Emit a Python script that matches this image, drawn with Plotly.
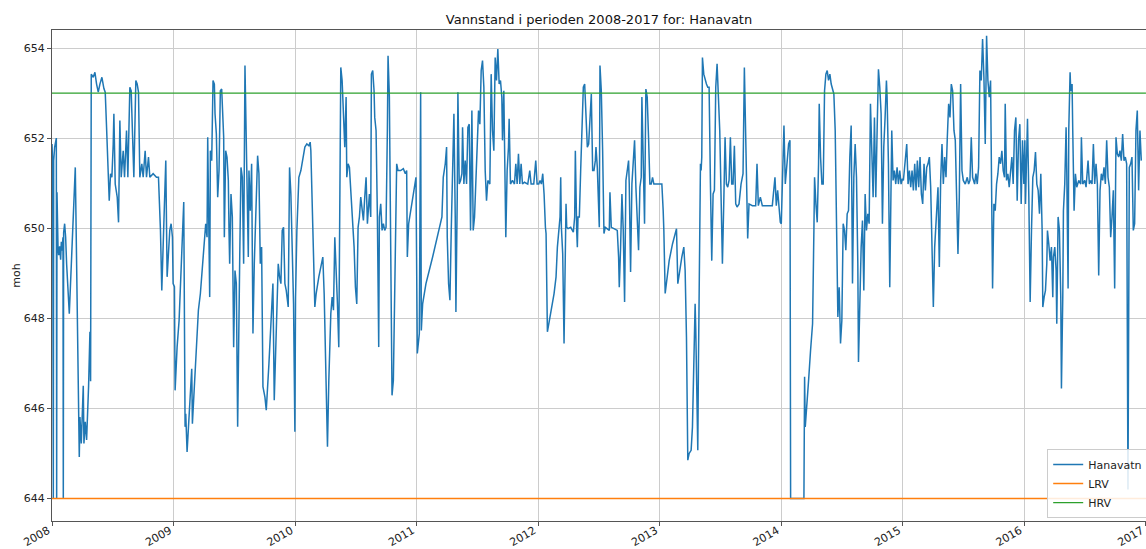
import pandas as pd
import plotly.graph_objects as go

# Water level (moh) per year: day-of-year and level pairs
days_2008 = [0, 2, 4, 5, 8, 11, 13, 14, 15, 18, 20, 23, 26, 28, 30, 33, 34, 35, 38, 41, 44, 50, 52, 70, 82,
             84, 88, 94, 96, 100, 104, 110, 114, 116, 118, 124, 129, 134, 139, 144, 150, 156, 160, 164, 168,
             170, 172, 176, 180, 184, 186, 190, 196, 200, 202, 204, 208, 214, 218, 224, 228, 230, 234, 238,
             242, 246, 252, 256, 260, 264, 270, 274, 280, 284, 290, 294, 304, 314, 320, 326, 330, 334, 338,
             342, 346, 350, 354, 358, 362, 364]
level_2008 = [651.87, 651.43, 644.0, 651.5, 651.8, 652.0, 652.0, 644.0, 650.8, 649.6, 649.4, 649.6, 649.3,
              649.7, 649.5, 649.8, 644.0, 649.9, 650.1, 649.8, 649.2, 648.5, 648.1, 651.35, 644.92, 645.81,
              645.22, 646.5, 645.22, 645.7, 645.3, 646.5, 647.7, 646.6, 653.42, 653.35, 653.46, 653.2, 653.02,
              653.2, 653.35, 653.1, 653.02, 652.24, 651.13, 650.91, 650.61, 651.21, 651.13, 651.87, 652.54,
              650.98, 650.69, 650.13, 651.43, 652.39, 651.13, 651.72, 651.13, 652.17, 651.13, 651.72, 653.13,
              653.05, 651.8, 651.13, 653.28, 653.2, 653.02, 651.13, 651.43, 651.13, 651.72, 651.13, 651.58,
              651.13, 651.21, 651.13, 651.13, 649.95, 648.62, 649.58, 650.54, 651.5, 648.92, 649.36, 649.95,
              650.1, 649.8, 648.77]

days_2009 = [2, 4, 10, 16, 22, 28, 30, 34, 36, 40, 46, 52, 54, 56, 60, 68, 74, 80, 88, 92, 96, 100, 102, 108,
             110, 114, 118, 122, 124, 128, 132, 136, 140, 144, 146, 150, 152, 156, 160, 164, 166, 168, 172,
             176, 180, 184, 188, 192, 198, 202, 206, 210, 214, 218, 222, 224, 226, 230, 234, 238, 242, 248,
             252, 256, 260, 264, 268, 274, 278, 286, 294, 298, 302, 306, 314, 318, 322, 326, 330, 334, 338,
             344, 348, 352, 356, 360, 364]
level_2009 = [648.7, 646.4, 647.36, 647.95, 649.21, 650.25, 650.58, 645.59, 645.88, 645.03, 645.96, 646.55,
              646.88, 645.66, 646.25, 647.29, 648.18, 648.55, 649.36, 649.58, 650.1, 649.8, 652.02, 648.47,
              651.72, 651.5, 653.28, 653.2, 652.54, 652.09, 650.69, 651.28, 653.05, 653.09, 652.61, 652.02,
              649.8, 651.72, 651.58, 651.06, 649.95, 649.21, 650.76, 650.25, 647.36, 649.06, 648.77, 645.59,
              649.21, 651.35, 651.13, 649.21, 653.61, 652.17, 650.1, 649.36, 651.28, 650.39, 651.43, 647.66,
              649.21, 651.06, 651.61, 651.21, 649.21, 649.58, 646.48, 646.25, 645.96, 646.99, 648.1, 648.77,
              646.18, 647.36, 649.21, 648.92, 648.77, 649.95, 650.02, 648.77, 648.62, 648.25, 651.35, 650.76,
              649.21, 648.32, 645.48]

days_2010 = [1, 5, 11, 17, 23, 29, 35, 41, 45, 47, 59, 63, 71, 83, 87, 97, 101, 107, 111, 115, 119, 123, 127,
             131, 133, 137, 141, 145, 149, 153, 155, 159, 163, 167, 171, 177, 181, 185, 189, 193, 197, 201,
             205, 209, 213, 217, 223, 227, 229, 233, 237, 239, 243, 247, 251, 253, 257, 261, 265, 269, 273,
             277, 279, 283, 287, 291, 295, 301, 305, 309, 317, 325, 331, 335, 337, 341, 351, 363]
level_2010 = [648.47, 649.95, 651.13, 651.28, 651.58, 651.8, 651.87, 651.83, 651.91, 651.72, 648.25, 648.55,
              648.92, 649.36, 648.55, 645.15, 646.62, 648.1, 648.47, 648.18, 649.8, 649.21, 648.32, 647.36,
              649.95, 653.57, 653.28, 652.54, 651.8, 652.91, 651.13, 651.43, 651.35, 650.84, 650.39, 649.58,
              648.69, 648.32, 650.02, 650.25, 650.69, 650.39, 650.17, 650.69, 651.13, 650.1, 650.76, 650.25,
              653.42, 653.5, 653.05, 652.46, 652.17, 650.25, 647.36, 650.25, 650.54, 649.95, 650.1, 649.95,
              650.02, 652.17, 653.83, 652.91, 649.95, 646.29, 646.62, 649.21, 651.43, 651.28, 651.28, 651.32,
              651.21, 651.28, 649.36, 650.1, 650.54, 651.13]

days_2011 = [2, 8, 12, 14, 18, 28, 48, 76, 80, 86, 90, 92, 96, 100, 104, 108, 112, 116, 118, 122, 124, 128,
             132, 136, 138, 142, 146, 150, 154, 158, 162, 166, 170, 174, 178, 182, 186, 190, 194, 198, 202,
             206, 210, 214, 220, 224, 228, 232, 236, 240, 244, 248, 252, 256, 258, 262, 266, 268, 272, 276,
             278, 282, 288, 294, 298, 302, 306, 310, 314, 318, 324, 334, 340, 344, 352, 358, 362]
level_2011 = [647.22, 647.66, 653.02, 647.73, 648.32, 648.77, 649.36, 650.25, 651.13, 651.43, 651.8, 649.8,
              648.77, 648.4, 649.95, 651.43, 652.54, 650.25, 648.14, 650.69, 653.02, 650.98, 651.06, 651.21,
              652.24, 650.98, 651.5, 650.98, 652.24, 652.31, 649.95, 652.61, 649.95, 650.25, 651.13, 651.87,
              652.61, 652.31, 653.5, 653.72, 653.13, 651.28, 650.61, 651.06, 650.98, 653.42, 652.17, 651.72,
              653.79, 653.28, 653.98, 653.2, 653.28, 652.91, 651.95, 653.05, 651.43, 649.8, 651.28, 651.8,
              652.43, 650.98, 651.06, 650.98, 651.43, 650.98, 651.65, 650.98, 651.43, 650.98, 651.02, 650.98,
              651.28, 650.98, 650.98, 651.5, 650.98]

days_2012 = [2, 6, 10, 14, 18, 22, 24, 28, 38, 48, 54, 58, 66, 68, 70, 74, 78, 82, 84, 86, 90, 98, 102, 106,
             110, 112, 116, 118, 120, 124, 128, 132, 136, 140, 144, 148, 152, 156, 160, 164, 168, 172, 174,
             178, 182, 184, 186, 190, 194, 198, 202, 208, 214, 216, 220, 228, 238, 242, 244, 248, 252, 256,
             260, 264, 268, 272, 274, 278, 282, 286, 290, 294, 298, 302, 306, 310, 312, 316, 320, 324, 328,
             332, 336, 340, 344, 348, 358, 365]
level_2012 = [650.98, 651.06, 650.98, 651.21, 650.76, 650.02, 649.88, 647.7, 648.1, 648.55, 648.92, 649.58,
              650.25, 651.13, 650.02, 649.43, 647.44, 649.21, 650.54, 650.02, 649.99, 650.02, 649.95, 649.91,
              650.25, 651.72, 649.95, 649.58, 650.25, 650.25, 651.28, 652.31, 653.13, 653.2, 652.54, 651.8,
              651.87, 652.61, 652.98, 651.28, 651.28, 651.5, 651.8, 651.35, 650.25, 650.02, 653.61, 653.05,
              651.72, 649.88, 650.02, 649.99, 649.95, 650.8, 650.02, 649.99, 649.95, 649.36, 648.69, 649.58,
              650.76, 649.95, 648.36, 651.06, 651.35, 651.5, 650.98, 649.03, 650.98, 651.5, 651.95, 650.91,
              650.25, 649.51, 650.91, 651.13, 652.91, 651.13, 650.1, 653.09, 652.91, 652.02, 650.98, 650.98,
              651.13, 650.98, 650.98, 650.98]

days_2013 = [0, 6, 10, 12, 16, 20, 28, 38, 50, 54, 58, 66, 72, 76, 80, 84, 88, 94, 98, 102, 106, 108, 112,
             114, 116, 120, 122, 124, 126, 128, 132, 136, 140, 144, 148, 152, 156, 160, 164, 168, 172, 176,
             180, 184, 188, 192, 196, 200, 204, 208, 212, 216, 220, 224, 228, 232, 238, 244, 250, 254, 258,
             262, 264, 268, 278, 288, 292, 296, 302, 308, 318, 328, 338, 346, 350, 354, 358, 362]
level_2013 = [650.98, 650.98, 650.39, 649.95, 648.55, 648.77, 649.28, 649.65, 649.99, 648.77, 648.99, 649.36,
              649.58, 649.06, 647.58, 644.85, 645.0, 645.07, 645.59, 646.99, 648.32, 647.73, 645.88, 645.07,
              646.99, 649.21, 651.43, 651.28, 651.58, 653.79, 653.42, 653.28, 653.2, 653.13, 653.13, 650.98,
              649.28, 650.76, 650.84, 653.13, 653.65, 652.91, 652.17, 650.69, 649.21, 650.54, 652.02, 650.98,
              650.91, 651.06, 652.02, 650.98, 650.98, 651.83, 650.54, 650.47, 650.54, 650.98, 651.21, 653.57,
              652.17, 650.47, 649.77, 650.54, 650.5, 650.5, 651.43, 650.5, 650.69, 650.5, 650.5, 650.5, 650.5,
              651.13, 650.5, 650.84, 650.5, 650.13]

days_2014 = [0, 4, 8, 12, 16, 22, 26, 28, 68, 70, 72, 76, 82, 88, 94, 98, 100, 104, 108, 112, 114, 118, 122,
             126, 128, 130, 134, 138, 142, 146, 150, 154, 158, 162, 166, 168, 170, 174, 178, 182, 186, 190,
             194, 198, 202, 206, 210, 212, 214, 218, 222, 226, 230, 232, 236, 240, 244, 248, 252, 256, 260,
             264, 268, 272, 276, 280, 284, 288, 292, 296, 300, 304, 308, 312, 316, 318, 322, 326, 330, 332,
             336, 340, 344, 348, 352, 356, 360, 364]
level_2014 = [650.1, 651.43, 652.28, 650.98, 651.43, 651.87, 651.95, 644.0, 644.0, 646.7, 645.59, 646.11,
              646.62, 647.29, 647.88, 649.95, 651.13, 650.54, 650.13, 651.43, 652.76, 651.58, 650.98, 650.98,
              651.87, 653.05, 653.42, 653.5, 653.28, 653.42, 653.2, 653.05, 652.98, 652.17, 649.95, 649.51,
              648.03, 648.69, 647.44, 647.95, 650.1, 649.95, 649.51, 650.32, 650.39, 651.58, 652.28, 650.69,
              648.77, 651.13, 651.87, 651.13, 649.21, 647.03, 648.47, 649.58, 650.17, 648.62, 650.76, 649.95,
              650.32, 650.1, 652.76, 651.58, 650.69, 652.46, 650.69, 652.17, 653.53, 653.13, 652.54, 650.1,
              651.8, 652.46, 653.28, 652.91, 651.43, 648.69, 651.06, 652.17, 651.06, 651.28, 650.98, 651.35,
              650.98, 651.28, 650.98, 651.1]

days_2015 = [2, 8, 12, 16, 20, 24, 28, 32, 36, 40, 44, 48, 52, 56, 60, 64, 68, 72, 76, 80, 84, 88, 92, 96,
             102, 106, 110, 114, 118, 122, 126, 130, 134, 138, 142, 146, 150, 154, 158, 162, 166, 170, 174,
             178, 182, 188, 194, 198, 202, 206, 210, 216, 220, 224, 228, 232, 236, 240, 244, 248, 252, 256,
             260, 264, 268, 270, 274, 278, 282, 286, 290, 294, 298, 302, 306, 308, 312, 316, 320, 324, 328,
             332, 336, 340, 344, 348, 352, 356, 360, 364]
level_2015 = [651.06, 651.5, 651.87, 650.98, 651.28, 650.91, 651.28, 650.84, 651.43, 650.84, 651.5, 650.91,
              651.58, 650.76, 650.54, 651.43, 650.84, 651.35, 651.43, 651.58, 650.91, 649.58, 648.25, 649.58,
              650.47, 650.91, 649.14, 651.06, 651.87, 650.98, 651.58, 651.13, 652.02, 652.76, 652.46, 653.2,
              653.05, 652.17, 651.95, 650.84, 649.43, 650.69, 653.2, 651.28, 651.06, 650.98, 651.13, 650.98,
              651.06, 652.02, 651.13, 650.98, 651.21, 650.98, 651.35, 653.5, 653.28, 654.2, 653.35, 651.87,
              654.27, 653.28, 652.91, 653.28, 649.95, 648.66, 650.54, 650.39, 650.98, 651.21, 651.58, 651.43,
              651.72, 651.28, 651.13, 652.76, 651.06, 651.21, 650.91, 651.35, 651.58, 650.98, 652.17, 652.46,
              650.61, 651.95, 652.31, 650.54, 651.95, 650.98]

days_2016 = [0, 2, 4, 8, 10, 14, 18, 22, 26, 30, 34, 38, 42, 46, 50, 54, 56, 60, 64, 68, 70, 74, 78, 82, 86,
             88, 92, 96, 98, 102, 106, 110, 112, 116, 118, 122, 126, 128, 132, 134, 138, 140, 144, 146, 150,
             154, 158, 164, 170, 172, 176, 182, 186, 192, 196, 200, 204, 208, 212, 216, 220, 224, 228, 232,
             236, 240, 244, 248, 252, 256, 260, 264, 268, 272, 276, 280, 284, 288, 292, 296, 300, 304, 308,
             312, 316, 320, 324, 328, 332, 336, 340, 344, 348, 352]
level_2016 = [651.8, 651.95, 650.54, 651.58, 652.43, 650.69, 648.36, 649.95, 651.13, 651.28, 651.69, 650.98,
              650.84, 650.32, 651.21, 649.95, 648.25, 648.47, 648.62, 649.21, 649.95, 649.65, 649.28, 649.58,
              648.47, 649.36, 649.58, 649.06, 647.88, 650.25, 649.95, 648.47, 646.44, 648.47, 650.39, 650.98,
              652.24, 651.28, 648.66, 652.17, 653.46, 653.05, 653.2, 652.17, 650.39, 651.21, 650.91, 651.06,
              650.98, 652.02, 650.98, 651.06, 650.91, 651.5, 650.98, 651.06, 650.98, 651.87, 650.98, 651.43,
              650.98, 648.95, 650.84, 651.21, 651.06, 651.35, 650.98, 651.95, 651.13, 650.91, 649.8, 650.25,
              650.84, 648.66, 652.02, 651.65, 651.58, 651.72, 651.5, 652.09, 651.5, 651.58, 651.43, 644.2,
              651.35, 651.43, 651.58, 649.95, 650.1, 652.17, 652.61, 650.84, 652.17, 651.5]

yearly = {
    2008: (days_2008, level_2008), 2009: (days_2009, level_2009), 2010: (days_2010, level_2010),
    2011: (days_2011, level_2011), 2012: (days_2012, level_2012), 2013: (days_2013, level_2013),
    2014: (days_2014, level_2014), 2015: (days_2015, level_2015), 2016: (days_2016, level_2016),
}

# Regulation limits
lrv_level = 644.0
hrv_level = 653.0
period = ["2008-01-01", "2017-01-01"]
year_ticks = [str(y) for y in range(2008, 2018)]
level_ticks = [644, 646, 648, 650, 652, 654]

dates, levels = [], []
for year, (days, vals) in yearly.items():
    start = pd.Timestamp(year=year, month=1, day=1)
    dates.extend(start + pd.to_timedelta(days, unit="D"))
    levels.extend(vals)

fig = go.Figure()
fig.add_trace(go.Scatter(x=dates, y=levels, mode="lines", name="Hanavatn",
                         line=dict(color="#1f77b4", width=1.5)))
fig.add_trace(go.Scatter(x=period, y=[lrv_level, lrv_level], mode="lines", name="LRV",
                         line=dict(color="#ff7f0e", width=1.5)))
fig.add_trace(go.Scatter(x=period, y=[hrv_level, hrv_level], mode="lines", name="HRV",
                         line=dict(color="#2ca02c", width=1.2)))

axis_font = dict(family="DejaVu Sans", size=11, color="#222")
fig.update_layout(
    width=1146, height=549,
    margin=dict(l=52, r=0, t=30, b=28, autoexpand=False),
    paper_bgcolor="white", plot_bgcolor="white",
    font=dict(family="DejaVu Sans", color="#222"),
    title=dict(text="Vannstand i perioden 2008-2017 for: Hanavatn",
               x=(52 + 1146) / 2 / 1146, xanchor="center", y=1 - 19 / 549, yanchor="middle",
               font=dict(family="DejaVu Sans", size=13, color="#111")),
    xaxis=dict(type="date", range=["2008-01-01", "2017-01-01 04:00"], automargin=False,
               tickvals=[f"{y}-01-01" for y in year_ticks], ticktext=year_ticks,
               tickangle=-30, tickfont=axis_font, ticklabelstandoff=-6, ticklabelshift=-4,
               ticklabeloverflow="allow",
               showgrid=True, gridcolor="#cccccc", gridwidth=1,
               showline=True, linecolor="#555", linewidth=1, mirror=True,
               ticks="outside", ticklen=4, tickcolor="#555", zeroline=False),
    yaxis=dict(range=[643.5, 654.4], tickvals=level_ticks, tickfont=axis_font, automargin=False,
               title=dict(text="moh", font=dict(family="DejaVu Sans", size=11, color="#222"), standoff=0),
               showgrid=True, gridcolor="#cccccc", gridwidth=1,
               showline=True, linecolor="#555", linewidth=1, mirror=True,
               ticks="outside", ticklen=4, tickcolor="#555", zeroline=False),
    legend=dict(x=1.002, y=0.006, xanchor="right", yanchor="bottom",
                bgcolor="rgba(255,255,255,0.85)", bordercolor="#cccccc", borderwidth=1,
                font=dict(family="DejaVu Sans", size=11, color="#222"),
                tracegroupgap=0, itemwidth=30),
    showlegend=True,
)

fig.write_html("out.html")
